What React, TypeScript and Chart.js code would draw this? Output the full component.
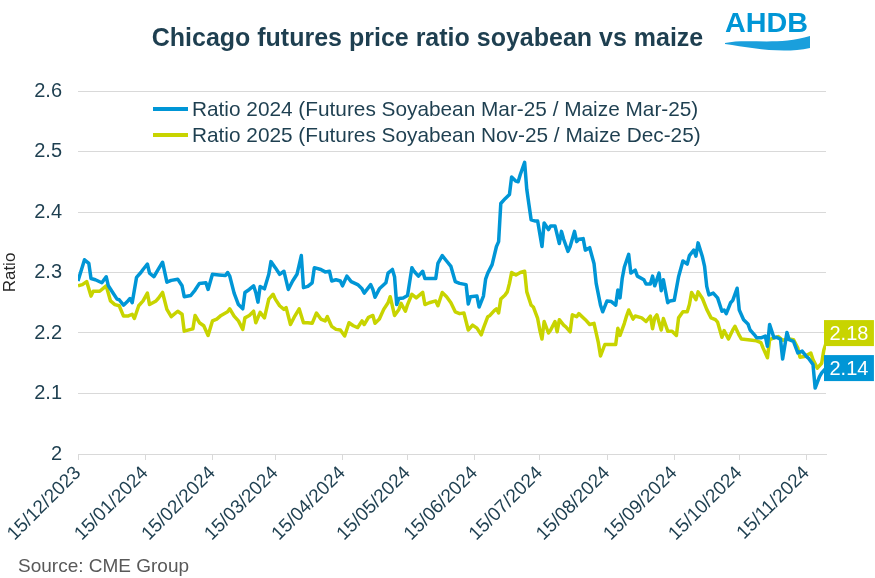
import React, { useEffect, useRef } from "react";
import { Chart, registerables } from "chart.js";

Chart.register(...registerables);

const FONT = '"Liberation Sans", Arial, Helvetica, sans-serif';
const TEXT = "#1e3f50";
const BLUE = "#0096d6";
const LIME = "#c8d400";
const GRID = "#d9d9d9";

const START_DATE = Date.UTC(2023, 11, 15);
const X_MAX = 345;
// tick positions: days since 15/12/2023 for the 15th of each month
const tickDays = [0, 31, 62, 91, 122, 152, 183, 213, 244, 275, 305, 336];
const Y_MIN = 2;
const Y_MAX = 2.6;
const Y_STEP = 0.1;

const seriesLabels = [
  "Ratio 2024 (Futures Soyabean Mar-25 / Maize Mar-25)",
  "Ratio 2025 (Futures Soyabean Nov-25 / Maize Dec-25)",
];

// days since 15/12/2023
const days2024 = [
  0, 3, 5, 6, 8, 11, 13, 14, 16, 18,
  19, 21, 23, 24, 25, 27, 29, 30, 32, 33,
  35, 37, 39, 41, 43, 46, 48, 49, 52, 54,
  56, 59, 60, 62, 65, 68, 69, 70, 72, 74,
  76, 77, 79, 81, 82, 83, 84, 86, 88, 89,
  91, 93, 95, 97, 99, 101, 103, 104, 106, 108,
  109, 112, 114, 116, 117, 119, 121, 122, 124, 126,
  129, 131, 132, 135, 136, 137, 139, 142, 143, 145,
  146, 147, 148, 150, 152, 154, 155, 157, 159, 160,
  163, 165, 166, 168, 170, 172, 174, 176, 179, 180,
  181, 184, 185, 187, 188, 189, 191, 193, 194, 195,
  197, 199, 200, 202, 203, 204, 206, 207, 208, 209,
  211, 212, 214, 215, 217, 218, 220, 222, 223, 224,
  226, 227, 229, 230, 231, 233, 234, 236, 238, 239,
  241, 242, 244, 246, 248, 249, 250, 251, 252, 254,
  255, 257, 258, 261, 262, 264, 265, 266, 268, 269,
  270, 272, 273, 275, 277, 279, 281, 282, 284, 285,
  286, 288, 289, 290, 291, 293, 295, 297, 298, 299,
  301, 302, 304, 305, 307, 309, 310, 312, 313, 315,
  317, 318, 319, 321, 322, 324, 325, 327, 328, 330,
  332, 334, 336, 337, 339, 340, 342, 343, 345,
];
const ratio2024 = [
  2.286, 2.321, 2.315, 2.29, 2.288, 2.283, 2.293, 2.278, 2.267, 2.256,
  2.255, 2.246, 2.253, 2.257, 2.25, 2.292, 2.3, 2.305, 2.314, 2.299,
  2.293, 2.305, 2.317, 2.284, 2.287, 2.289, 2.278, 2.26, 2.262, 2.271,
  2.282, 2.283, 2.272, 2.297, 2.296, 2.295, 2.3, 2.294, 2.266, 2.247,
  2.24, 2.267, 2.272, 2.278, 2.267, 2.251, 2.277, 2.273, 2.297, 2.318,
  2.308, 2.297, 2.302, 2.272, 2.286, 2.297, 2.328, 2.275, 2.277, 2.283,
  2.308, 2.305, 2.301, 2.302, 2.286, 2.288, 2.286, 2.278, 2.294, 2.285,
  2.28, 2.273, 2.266, 2.28, 2.272, 2.259, 2.273, 2.283, 2.299, 2.305,
  2.293, 2.247, 2.257, 2.258, 2.262, 2.308, 2.302, 2.294, 2.302, 2.29,
  2.29, 2.29, 2.315, 2.328, 2.319, 2.31, 2.285, 2.282, 2.28, 2.248,
  2.26, 2.261, 2.243, 2.261, 2.289, 2.299, 2.313, 2.343, 2.351, 2.414,
  2.422, 2.429, 2.458, 2.451, 2.45, 2.462, 2.482, 2.437, 2.412, 2.387,
  2.385, 2.385, 2.343, 2.382, 2.371, 2.377, 2.377, 2.348, 2.368, 2.355,
  2.335, 2.343, 2.368, 2.351, 2.355, 2.356, 2.337, 2.341, 2.315, 2.282,
  2.246, 2.235, 2.253, 2.252, 2.246, 2.271, 2.258, 2.29, 2.309, 2.33,
  2.299, 2.304, 2.294, 2.288, 2.281, 2.281, 2.294, 2.278, 2.299, 2.27,
  2.288, 2.25, 2.253, 2.254, 2.293, 2.319, 2.314, 2.328, 2.337, 2.327,
  2.349, 2.326, 2.31, 2.277, 2.263, 2.266, 2.258, 2.236, 2.238, 2.232,
  2.25, 2.254, 2.274, 2.238, 2.222, 2.215, 2.205, 2.197, 2.192, 2.192,
  2.195, 2.178, 2.214, 2.192, 2.193, 2.19, 2.157, 2.201, 2.189, 2.186,
  2.167, 2.17, 2.161, 2.158, 2.148, 2.109, 2.128, 2.134, 2.142,
];

const days2025 = [
  0, 2, 4, 6, 7, 10, 13, 15, 17, 19,
  21, 23, 25, 26, 28, 30, 32, 33, 36, 37,
  39, 41, 43, 46, 48, 49, 52, 53, 54, 56,
  58, 60, 62, 64, 66, 69, 70, 72, 74, 76,
  77, 79, 81, 82, 84, 86, 88, 90, 91, 93,
  95, 96, 98, 100, 102, 104, 106, 108, 110, 112,
  114, 115, 117, 119, 121, 123, 125, 127, 129, 131,
  132, 134, 136, 137, 139, 141, 143, 144, 146, 148,
  149, 151, 152, 154, 156, 159, 160, 162, 165, 166,
  168, 170, 172, 174, 176, 178, 180, 182, 184, 186,
  187, 189, 190, 192, 193, 194, 195, 197, 198, 199,
  200, 202, 204, 206, 207, 209, 210, 212, 213, 214,
  215, 217, 218, 220, 221, 222, 224, 225, 227, 228,
  230, 231, 234, 236, 238, 240, 241, 243, 246, 248,
  249, 250, 252, 253, 254, 256, 257, 260, 262, 264,
  265, 266, 267, 269, 270, 272, 274, 276, 277, 279,
  281, 282, 283, 285, 286, 288, 290, 292, 294, 295,
  297, 298, 300, 302, 303, 305, 306, 309, 311, 313,
  315, 316, 318, 319, 321, 323, 325, 326, 328, 330,
  332, 333, 335, 338, 339, 341, 343, 344, 345,
];
const ratio2025 = [
  2.278, 2.28, 2.285, 2.261, 2.269, 2.269, 2.278, 2.253, 2.247, 2.245,
  2.228, 2.228, 2.231, 2.224, 2.245, 2.253, 2.266, 2.247, 2.253, 2.257,
  2.267, 2.239, 2.227, 2.236, 2.231, 2.203, 2.206, 2.207, 2.229, 2.217,
  2.212, 2.196, 2.22, 2.223, 2.229, 2.235, 2.24, 2.228, 2.22, 2.206,
  2.225, 2.229, 2.236, 2.217, 2.234, 2.225, 2.256, 2.264, 2.256, 2.245,
  2.239, 2.242, 2.214, 2.228, 2.24, 2.217, 2.217, 2.216, 2.233, 2.223,
  2.22, 2.227, 2.211, 2.206, 2.205, 2.195, 2.217, 2.212, 2.209, 2.22,
  2.214, 2.226, 2.229, 2.216, 2.223, 2.239, 2.25, 2.26, 2.229, 2.239,
  2.249, 2.236, 2.247, 2.264, 2.258, 2.267, 2.247, 2.25, 2.253, 2.245,
  2.267, 2.26, 2.25, 2.235, 2.232, 2.233, 2.205, 2.213, 2.208, 2.197,
  2.208, 2.227, 2.229, 2.237, 2.24, 2.233, 2.256, 2.263, 2.268, 2.282,
  2.3, 2.296, 2.3, 2.302, 2.268, 2.246, 2.243, 2.224, 2.205, 2.19,
  2.219, 2.2, 2.205, 2.219, 2.202, 2.222, 2.213, 2.21, 2.202, 2.23,
  2.227, 2.232, 2.222, 2.214, 2.216, 2.184, 2.162, 2.181, 2.181, 2.181,
  2.208, 2.196, 2.216, 2.228, 2.238, 2.223, 2.228, 2.225, 2.219, 2.228,
  2.207, 2.225, 2.23, 2.205, 2.224, 2.203, 2.203, 2.196, 2.225, 2.235,
  2.235, 2.247, 2.267, 2.255, 2.268, 2.257, 2.239, 2.225, 2.222, 2.218,
  2.193, 2.204, 2.19, 2.205, 2.211, 2.196, 2.19, 2.189, 2.188, 2.187,
  2.184, 2.175, 2.159, 2.189, 2.192, 2.194, 2.188, 2.189, 2.19, 2.189,
  2.175, 2.16, 2.161, 2.167, 2.156, 2.142, 2.15, 2.172, 2.183,
];

function formatDay(d: number): string {
  const dt = new Date(START_DATE + d * 86400000);
  const dd = String(dt.getUTCDate()).padStart(2, "0");
  const mm = String(dt.getUTCMonth() + 1).padStart(2, "0");
  return `${dd}/${mm}/${dt.getUTCFullYear()}`;
}

const overlayPlugin = {
  id: "overlayPlugin",
  afterDraw(chart: any) {
    const { ctx, chartArea, scales } = chart;
    ctx.save();
    // legend
    ctx.font = `20.8px ${FONT}`;
    ctx.textBaseline = "middle";
    ctx.textAlign = "left";
    const colors = [BLUE, LIME];
    seriesLabels.forEach((label, i) => {
      const y = chartArea.top + 18 + i * 26;
      const x0 = chartArea.left + 75;
      ctx.strokeStyle = colors[i];
      ctx.lineWidth = 4;
      ctx.beginPath();
      ctx.moveTo(x0, y);
      ctx.lineTo(x0 + 35, y);
      ctx.stroke();
      ctx.fillStyle = TEXT;
      ctx.fillText(label, x0 + 39, y + 1);
    });
    // end value labels
    const xs = scales.x;
    const ys = scales.y;
    const lastB = ratio2024[ratio2024.length - 1];
    const lastY = ratio2025[ratio2025.length - 1];
    const bx = xs.getPixelForValue(days2024[days2024.length - 1]) - 2;
    const by = ys.getPixelForValue(lastB);
    const yy = Math.min(ys.getPixelForValue(lastY), by - 35);
    const boxes = [
      { v: lastY, y: yy, c: LIME },
      { v: lastB, y: by, c: BLUE },
    ];
    ctx.font = `20px ${FONT}`;
    boxes.forEach((b) => {
      const t = b.v.toFixed(2);
      const w = ctx.measureText(t).width + 11;
      const h = 26;
      ctx.fillStyle = b.c;
      ctx.fillRect(bx, b.y - h / 2, w, h);
      ctx.fillStyle = "#ffffff";
      ctx.textAlign = "left";
      ctx.fillText(t, bx + 5.5, b.y + 1);
    });
    ctx.restore();
  },
};

export default function App() {
  const canvasRef = useRef<HTMLCanvasElement | null>(null);

  useEffect(() => {
    const canvas = canvasRef.current;
    if (!canvas) return;
    const yTicks: number[] = [];
    for (let v = Y_MIN; v <= Y_MAX + 1e-9; v += Y_STEP) yTicks.push(Math.round(v * 10) / 10);

    const chart = new Chart(canvas, {
      type: "line",
      data: {
        datasets: [
          {
            label: seriesLabels[0],
            data: days2024.map((d, i) => ({ x: d, y: ratio2024[i] })),
            borderColor: BLUE,
            backgroundColor: BLUE,
            borderWidth: 3.5,
            pointRadius: 0,
            tension: 0,
            borderJoinStyle: "round",
          },
          {
            label: seriesLabels[1],
            data: days2025.map((d, i) => ({ x: d, y: ratio2025[i] })),
            borderColor: LIME,
            backgroundColor: LIME,
            borderWidth: 3.5,
            pointRadius: 0,
            tension: 0,
            borderJoinStyle: "round",
          },
        ],
      },
      options: {
        responsive: false,
        animation: false,
        layout: { padding: { top: 91, right: 49, bottom: 33, left: 0 } },
        plugins: {
          legend: { display: false },
          title: { display: false },
          tooltip: { enabled: false },
        },
        scales: {
          x: {
            type: "linear",
            min: 0,
            max: X_MAX,
            afterBuildTicks: (axis: any) => {
              axis.ticks = tickDays.map((v) => ({ value: v }));
            },
            afterFit: (scale: any) => {
              scale.height = 91;
            },
            grid: {
              drawOnChartArea: false,
              drawTicks: true,
              tickLength: 6,
              color: GRID,
            },
            border: { display: true, color: GRID, width: 1 },
            ticks: {
              autoSkip: false,
              maxRotation: 45,
              minRotation: 45,
              padding: 2,
              color: TEXT,
              font: { family: FONT, size: 19 },
              callback: (v: any) => formatDay(Number(v)),
            },
          },
          y: {
            min: Y_MIN,
            max: Y_MAX,
            afterBuildTicks: (axis: any) => {
              axis.ticks = yTicks.map((v) => ({ value: v }));
            },
            afterFit: (scale: any) => {
              scale.width = 78;
            },
            grid: { color: GRID, drawTicks: false, lineWidth: 1 },
            border: { display: false },
            ticks: {
              padding: 16,
              color: TEXT,
              font: { family: FONT, size: 20 },
              callback: (v: any) => String(Math.round(Number(v) * 10) / 10),
            },
            title: {
              display: true,
              text: "Ratio",
              color: "#262626",
              font: { family: FONT, size: 17 },
              padding: { top: 0, bottom: 0 },
            },
          },
        },
      },
      plugins: [overlayPlugin],
    } as any);

    return () => chart.destroy();
  }, []);

  return (
    <div
      style={{
        position: "fixed",
        left: 0,
        top: 0,
        width: 875,
        height: 578,
        background: "#ffffff",
        overflow: "hidden",
      }}
    >
      <canvas
        ref={canvasRef}
        width={875}
        height={578}
        style={{ position: "absolute", left: 0, top: 0, width: 875, height: 578 }}
      />
      <div
        style={{
          position: "absolute",
          left: 0,
          top: 25,
          width: 855,
          textAlign: "center",
          fontFamily: FONT,
          fontWeight: "bold",
          fontSize: 25,
          lineHeight: "25px",
          color: TEXT,
          whiteSpace: "nowrap",
        }}
      >
        Chicago futures price ratio soyabean vs maize
      </div>
      <svg
        width={110}
        height={55}
        style={{ position: "absolute", left: 712, top: 5 }}
        viewBox="0 0 110 55"
      >
        <text
          x={13}
          y={26.7}
          fontFamily={FONT}
          fontSize={28}
          fontWeight="bold"
          fill={BLUE}
          textLength={83}
          lengthAdjust="spacingAndGlyphs"
        >
          AHDB
        </text>
        <path
          d="M 13 38 C 35 33, 65 41, 98 31 L 98 43 C 70 49, 40 43, 13 39 Z"
          fill="#1a9fdc"
        />
      </svg>
      <div
        style={{
          position: "absolute",
          left: 18,
          top: 556,
          fontFamily: FONT,
          fontSize: 19,
          lineHeight: "19px",
          color: "#595959",
          whiteSpace: "nowrap",
        }}
      >
        Source: CME Group
      </div>
    </div>
  );
}
